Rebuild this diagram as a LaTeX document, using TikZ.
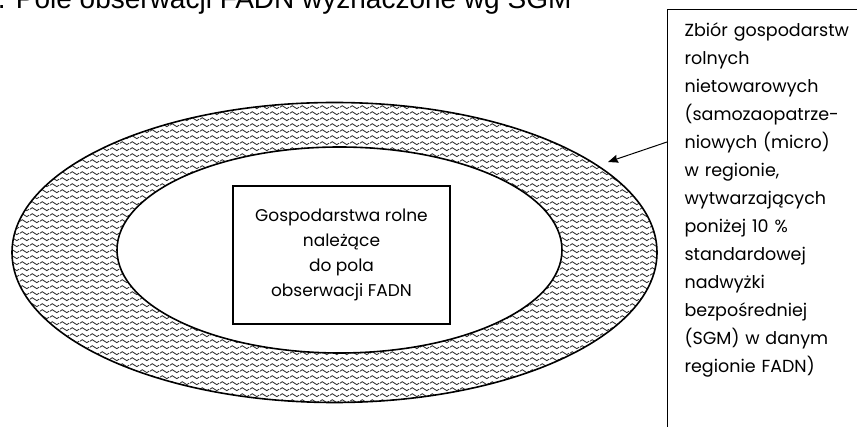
\documentclass[tikz,border=0pt]{standalone}
\usepackage{fontspec}
\setmainfont{Poppins}
\newfontfamily\arialfont{Liberation Sans}
\usetikzlibrary{arrows.meta,patterns}

\pgfdeclarepatternformonly{fale}{\pgfqpoint{0pt}{0pt}}{\pgfqpoint{10pt}{5.8pt}}{\pgfqpoint{10pt}{5.8pt}}{
  \pgfsetlinewidth{0.9pt}
  \pgfpathmoveto{\pgfqpoint{0pt}{2.9pt}}
  \pgfpathcurveto{\pgfqpoint{1.6pt}{4.9pt}}{\pgfqpoint{3.4pt}{4.9pt}}{\pgfqpoint{5pt}{2.9pt}}
  \pgfpathcurveto{\pgfqpoint{6.6pt}{0.9pt}}{\pgfqpoint{8.4pt}{0.9pt}}{\pgfqpoint{10pt}{2.9pt}}
  \pgfusepath{stroke}}

\begin{document}
\begin{tikzpicture}[x=1pt,y=-1pt,>={Stealth[length=10pt,width=8pt,inset=1pt]}]
  \useasboundingbox (0,0) rectangle (857,427);
  \clip (0,0) rectangle (857,427);
  \node[anchor=base west,inner sep=0pt,font=\fontsize{28}{30}\selectfont\arialfont] (tytul) at (-18,9) {1. Pole obserwacji FADN wyznaczone wg SGM};
  \draw[line width=1.6pt,pattern=fale,pattern color=black!80,even odd rule] (334.5,252.5) ellipse (322.5pt and 150pt) (339.5,250) ellipse (222.5pt and 103pt);
  \node[draw,line width=1.2pt,fill=white,minimum width=217pt,minimum height=138pt,align=center,font=\fontsize{17}{25}\selectfont] (gosp) at (341.5,255) {Gospodarstwa rolne\\należące\\do pola\\obserwacji FADN};
  \node[draw,line width=1.2pt,anchor=north west,inner xsep=17pt,inner ysep=13pt,text width=180pt,align=left,text depth=400pt,font=\fontsize{17.5}{28}\selectfont] (zbior) at (667,9) {Zbiór gospodarstw\\rolnych\\nietowarowych\\(samozaopatrze-\\niowych (micro)\\w regionie,\\wytwarzających\\poniżej 10 \%\\standardowej\\nadwyżki\\bezpośredniej\\(SGM) w danym\\regionie FADN)};
  \coordinate (cel) at (608,162);
  \draw[->,line width=1pt] ([yshift=-133pt]zbior.north west) -- (cel);
\end{tikzpicture}
\end{document}
